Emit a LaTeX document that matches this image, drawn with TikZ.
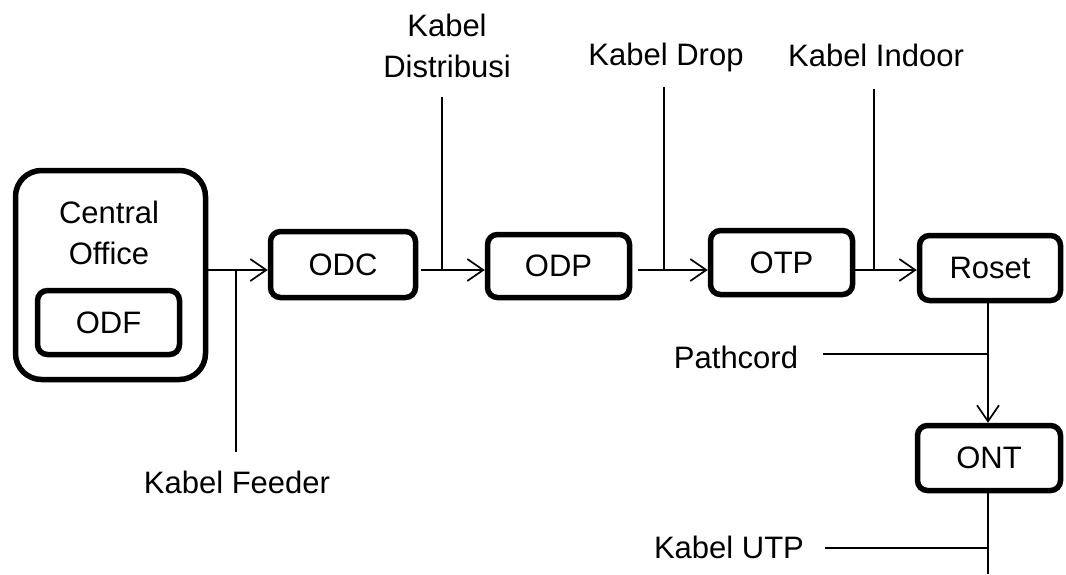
\documentclass[tikz,border=0pt]{standalone}
\usepackage{fontspec}
\setmainfont{Liberation Sans}
\usetikzlibrary{arrows.meta}
\begin{document}
\begin{tikzpicture}[x=1pt,y=-1pt,
  box/.style={draw, line width=5.5pt, rounded corners=10pt, inner sep=0pt, align=center},
  wire/.style={line width=1.7pt},
  arr/.style={wire, -{Straight Barb[length=16pt,width=22pt]}},
  lbl/.style={inner sep=0pt, align=center},
  font=\fontsize{31}{41.5}\selectfont]
\useasboundingbox (0,0) rectangle (1066,574);

% boxes
\node[box, rounded corners=26pt, minimum width=190pt, minimum height=209pt] (co) at (110.5,275) {};
\node[lbl] (cotext) at (109,233) {Central\\Office};
\node[box, minimum width=142pt, minimum height=64pt] (odf) at (108.5,322.5) {ODF};
\node[box, minimum width=145pt, minimum height=66pt] (odc) at (343,264.5) {ODC};
\node[box, minimum width=142pt, minimum height=63pt] (odp) at (558.5,266) {ODP};
\node[box, minimum width=142pt, minimum height=64pt] (otp) at (781.5,262.5) {OTP};
\node[box, minimum width=141pt, minimum height=65pt] (roset) at (990,268) {Roset};
\node[box, minimum width=143pt, minimum height=65pt] (ont) at (989,458) {ONT};

% labels
\node[lbl, anchor=base] (feeder) at (237,493) {Kabel Feeder};
\node[lbl] (distlbl) at (447,46) {Kabel\\Distribusi};
\node[lbl, anchor=base] (droplbl) at (666,65) {Kabel Drop};
\node[lbl, anchor=base] (indoorlbl) at (876,66) {Kabel Indoor};
\node[lbl, anchor=base] (pclbl) at (736,368) {Pathcord};
\node[lbl, anchor=base] (utplbl) at (729,558) {Kabel UTP};

% coordinates
\coordinate (row) at (0,270);
\coordinate (feedtap) at (236,270);
\coordinate (feedend) at (236,452);
\coordinate (disttop) at (442,97);
\coordinate (disttap) at (442,270);
\coordinate (droptop) at (664,87);
\coordinate (droptap) at (664,270);
\coordinate (indoortop) at (874,89);
\coordinate (indoortap) at (874,270);
\coordinate (pcstart) at (823,354);
\coordinate (pctap) at (988,354);
\coordinate (utpstart) at (825,548);
\coordinate (utptap) at (988,548);
\coordinate (bottom) at (988,574);

% main chain
\draw[arr] (co.east |- row) -- (odc.west |- row);
\draw[arr] ([xshift=3pt]odc.east |- row) -- (odp.west |- row);
\draw[arr] ([xshift=6pt]odp.east |- row) -- (otp.west |- row);
\draw[arr] ([xshift=-4pt]otp.east |- row) -- (roset.west |- row);
\draw[arr] (roset.south -| pctap) -- (ont.north -| pctap);
\draw[wire] (ont.south -| bottom) -- (bottom);

% cable taps
\draw[wire] (feedtap) -- (feedend);
\draw[wire] (disttop) -- (disttap);
\draw[wire] (droptop) -- (droptap);
\draw[wire] (indoortop) -- (indoortap);
\draw[wire] (pcstart) -- (pctap);
\draw[wire] (utpstart) -- (utptap);
\end{tikzpicture}
\end{document}
